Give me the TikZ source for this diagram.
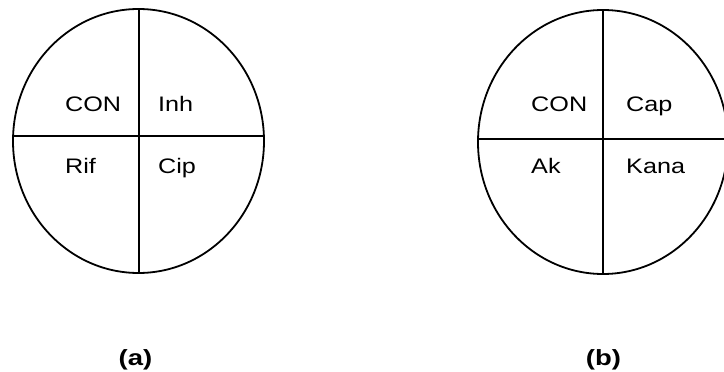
\documentclass[tikz,border=0pt]{standalone}
\usepackage{fontspec}
\setmainfont{Liberation Sans}
\begin{document}
\begin{tikzpicture}[x=1pt,y=-1pt,
  ring/.style={line width=1.8pt},
  divider/.style={line width=1.7pt},
  quadlabel/.style={anchor=base west,inner sep=0pt,font=\fontsize{21}{25}\selectfont},
  caption/.style={anchor=base,inner sep=0pt,font=\fontsize{22}{26}\selectfont\bfseries}]
\useasboundingbox (0,0) rectangle (724,372);
% circle (a)
\draw[ring] (138.5,141) ellipse [x radius=125.5, y radius=132];
\coordinate (aT) at (139,9);
\coordinate (aB) at (139,273);
\coordinate (aL) at (13,136);
\coordinate (aR) at (264,136);
\draw[divider] (aT) -- (aB);
\draw[divider] (aL) -- (aR);
\node[quadlabel] (a1) at (65,111) {\scalebox{1.2}[1]{CON}};
\node[quadlabel] (a2) at (158,111) {\scalebox{1.2}[1]{Inh}};
\node[quadlabel] (a3) at (65,173) {\scalebox{1.2}[1]{Rif}};
\node[quadlabel] (a4) at (158,173) {\scalebox{1.2}[1]{Cip}};
\node[caption] (ca) at (135.5,365) {\scalebox{1.25}[1]{(a)}};
% circle (b)
\draw[ring] (603,142) ellipse [x radius=125, y radius=132];
\coordinate (bT) at (603,10);
\coordinate (bB) at (603,274);
\coordinate (bL) at (478,139);
\coordinate (bR) at (728,139);
\draw[divider] (bT) -- (bB);
\draw[divider] (bL) -- (bR);
\node[quadlabel] (b1) at (531,111) {\scalebox{1.2}[1]{CON}};
\node[quadlabel] (b2) at (626,111) {\scalebox{1.2}[1]{Cap}};
\node[quadlabel] (b3) at (531,173) {\scalebox{1.2}[1]{Ak}};
\node[quadlabel] (b4) at (626,173) {\scalebox{1.2}[1]{Kana}};
\node[caption] (cb) at (603.5,365) {\scalebox{1.25}[1]{(b)}};
\end{tikzpicture}
\end{document}
